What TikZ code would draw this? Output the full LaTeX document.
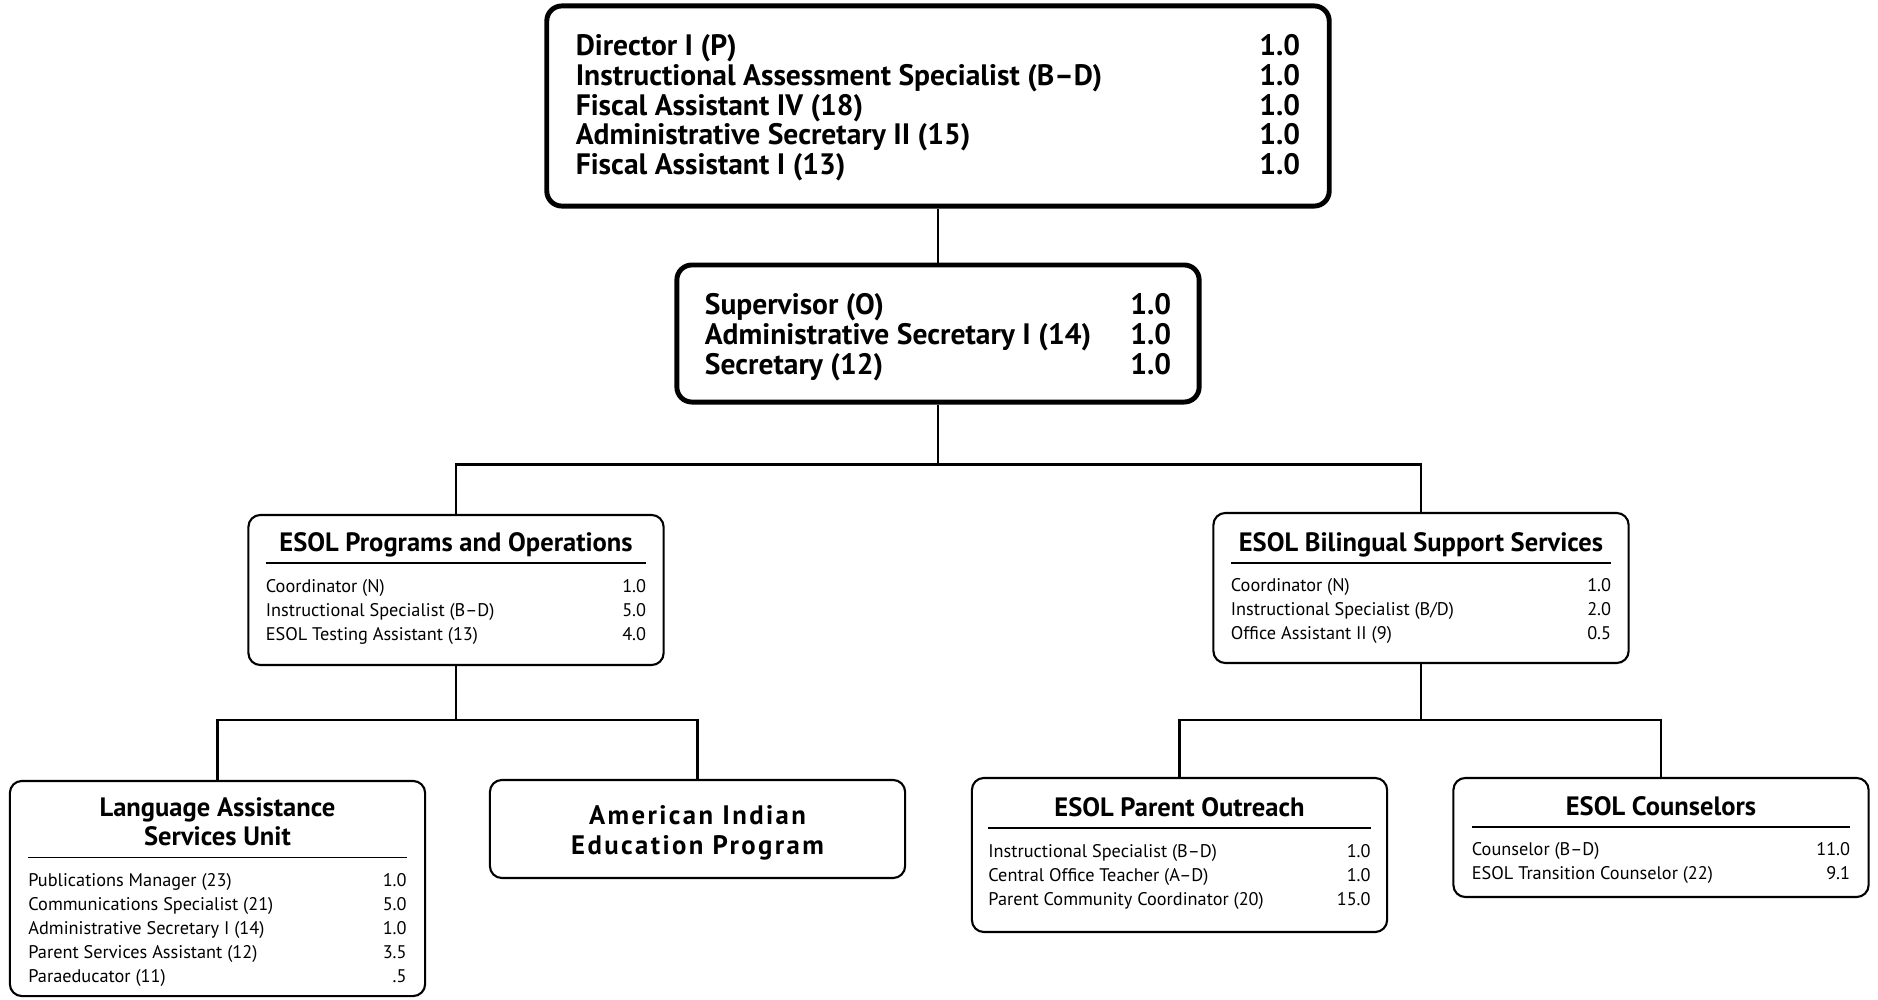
\documentclass[tikz,border=0pt]{standalone}
\usepackage{fontspec}
\setmainfont{PT Sans}
\usepackage{array}
\newcommand\unittitle{\fontsize{7.55}{8.4}\selectfont\bfseries}

\begin{document}
\begin{tikzpicture}[x=0.01cm,y=-0.01cm]
	\tikzstyle{headbox}=[draw,line width=1.4pt,rounded corners=0.15cm,inner sep=0pt,font=\fontsize{8.4}{8.25}\selectfont\bfseries]
	\tikzstyle{unitbox}=[draw,line width=0.6pt,rounded corners=0.12cm,inner sep=0pt,minimum width=4.15cm,font=\fontsize{5.2}{6.8}\selectfont]
	\tikzstyle{link}=[line width=0.7pt]
	\setlength{\arrayrulewidth}{0.5pt}
	\useasboundingbox (0,0) rectangle (1878,1000);

	% office of the director
	\node[headbox,minimum width=7.82cm,minimum height=2cm] (director) at (938,106) {\begin{tabular*}{7.24cm}{@{}l@{\extracolsep{\fill}}r@{}}
		\rule{0pt}{7.6pt}Director I (P) & 1.0\\
		Instructional Assessment Specialist (B--D) & 1.0\\
		Fiscal Assistant IV (18) & 1.0\\
		Administrative Secretary II (15) & 1.0\\
		Fiscal Assistant I (13) & 1.0
	\end{tabular*}};

	\node[headbox,minimum width=5.22cm,minimum height=1.37cm] (supervisor) at (938,333.5) {\begin{tabular*}{4.66cm}{@{}l@{\extracolsep{\fill}}r@{}}
		\rule{0pt}{8.6pt}Supervisor (O) & 1.0\\
		Administrative Secretary I (14) & 1.0\\
		Secretary (12) & 1.0
	\end{tabular*}};

	% second level
	\node[unitbox,minimum height=1.5cm] (programs) at (456,590) {\begin{tabular*}{3.8cm}{@{}l@{\extracolsep{\fill}}r@{}}
		\multicolumn{2}{@{}c@{}}{\unittitle ESOL Programs and Operations}\\[1pt]\hline
		\rule{0pt}{8pt}Coordinator (N) & 1.0\\
		Instructional Specialist (B--D) & 5.0\\
		ESOL Testing Assistant (13) & 4.0
	\end{tabular*}};

	\node[unitbox,minimum height=1.5cm] (bilingual) at (1421,588) {\begin{tabular*}{3.8cm}{@{}l@{\extracolsep{\fill}}r@{}}
		\multicolumn{2}{@{}c@{}}{\unittitle\rule{0pt}{6.2pt}ESOL Bilingual Support Services}\\[1pt]\hline
		\rule{0pt}{8pt}Coordinator (N) & 1.0\\
		Instructional Specialist (B/D) & 2.0\\
		Office Assistant II (9) & 0.5
	\end{tabular*}};

	% third level
	\node[unitbox,minimum height=2.15cm] (language) at (217.5,888.5) {\begin{tabular*}{3.78cm}{@{}l@{\extracolsep{\fill}}r@{}}
		\multicolumn{2}{@{}c@{}}{\unittitle\rule{0pt}{8.1pt}Language Assistance}\\[1pt]
		\multicolumn{2}{@{}c@{}}{\unittitle Services Unit}\\[1pt]\hline
		\rule{0pt}{8pt}Publications Manager (23) & 1.0\\
		Communications Specialist (21) & 5.0\\
		Administrative Secretary I (14) & 1.0\\
		Parent Services Assistant (12) & 3.5\\
		Paraeducator (11) & .5
	\end{tabular*}};

	\node[unitbox,minimum height=0.98cm,align=center,font=\fontsize{7.6}{8.5}\selectfont\bfseries\addfontfeatures{LetterSpace=9}] (indian) at (697.5,829) {\rule{0pt}{7.5pt}American Indian\\Education Program};

	\node[unitbox,minimum height=1.54cm] (outreach) at (1179.5,855) {\begin{tabular*}{3.82cm}{@{}l@{\extracolsep{\fill}}r@{}}
		\multicolumn{2}{@{}c@{}}{\unittitle ESOL Parent Outreach}\\[1pt]\hline
		\rule{0pt}{8pt}Instructional Specialist (B--D) & 1.0\\
		Central Office Teacher (A--D) & 1.0\\
		Parent Community Coordinator (20) & 15.0
	\end{tabular*}};

	\node[unitbox,minimum height=1.19cm] (counselors) at (1661,837.5) {\begin{tabular*}{3.78cm}{@{}l@{\extracolsep{\fill}}r@{}}
		\multicolumn{2}{@{}c@{}}{\unittitle\rule{0pt}{7.8pt}ESOL Counselors}\\[1pt]\hline
		\rule{0pt}{8pt}Counselor (B--D) & 11.0\\
		ESOL Transition Counselor (22) & 9.1
	\end{tabular*}};

	% connectors
	\draw[link] (director) -- (supervisor);
	\draw[link] (supervisor.south) -- ++(0,60) coordinate (split1);
	\draw[link] (programs.north) |- (split1) -| (bilingual.north);
	\draw[link] (programs.south) -- ++(0,54) coordinate (split2);
	\draw[link] (language.north) |- (split2) -| (indian.north);
	\draw[link] (bilingual.south) -- ++(0,56) coordinate (split3);
	\draw[link] (outreach.north) |- (split3) -| (counselors.north);
\end{tikzpicture}
\end{document}
